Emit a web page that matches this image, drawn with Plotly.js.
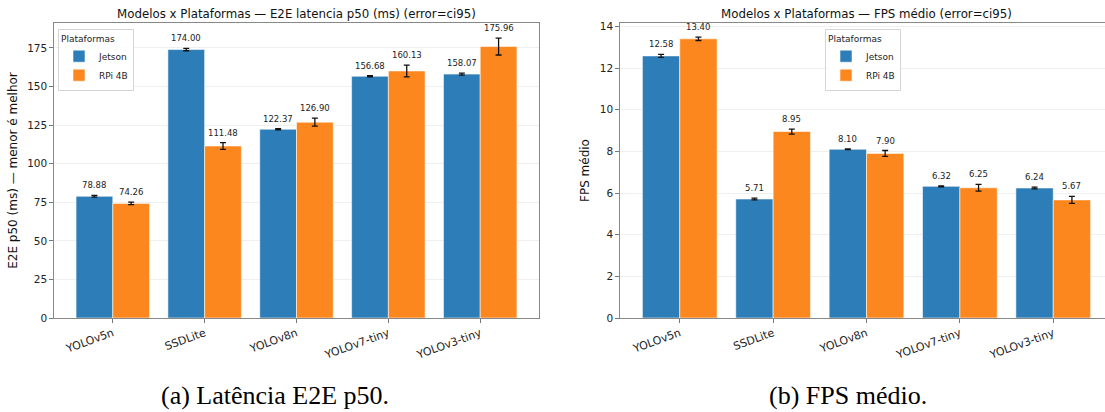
<!DOCTYPE html>
<html>
<head>
<meta charset="utf-8">
<script src="https://cdn.plot.ly/plotly-3.0.1.min.js"></script>
<style>
  html, body { margin: 0; padding: 0; overflow: hidden; background: #fff; }
  #chart { width: 1120px; height: 412px; }
</style>
</head>
<body>
<div id="chart"></div>
<script>
// ---- Data ----
const models = ['YOLOv5n', 'SSDLite', 'YOLOv8n', 'YOLOv7-tiny', 'YOLOv3-tiny'];
const platforms = ['Jetson', 'RPi 4B'];

const latJetson = [78.88, 174.00, 122.37, 156.68, 158.07];
const latJetsonErr = [0.6, 0.8, 0.4, 0.35, 0.6];
const latRpi = [74.26, 111.48, 126.90, 160.13, 175.96];
const latRpiErr = [0.8, 2.2, 2.6, 3.8, 5.5];

const fpsJetson = [12.58, 5.71, 8.10, 6.32, 6.24];
const fpsJetsonErr = [0.07, 0.04, 0.02, 0.02, 0.04];
const fpsRpi = [13.40, 8.95, 7.90, 6.25, 5.67];
const fpsRpiErr = [0.08, 0.12, 0.14, 0.16, 0.17];

const titleLat = 'Modelos x Plataformas — E2E latencia p50 (ms) (error=ci95)';
const titleFps = 'Modelos x Plataformas — FPS médio (error=ci95)';
const yTitleLat = 'E2E p50 (ms) — menor é melhor';
const yTitleFps = 'FPS médio';
const captionA = '(a) Latência E2E p50.';
const captionB = '(b) FPS médio.';

// ---- Styling ----
const W = 1120, H = 412;
const blue = '#2d7eb8';
const orange = '#fd871f';
const font = 'DejaVu Sans, sans-serif';
const serif = 'Liberation Serif, Times New Roman, serif';
const pos = models.map((_, i) => i);

function bar(name, y, err, color, xa, ya, legend) {
  return {
    type: 'bar', name: name, x: pos, y: y,
    xaxis: xa, yaxis: ya, legend: legend, showlegend: true,
    marker: { color: color, line: { color: 'rgba(255,255,255,0.55)', width: 1 } },
    error_y: { type: 'data', array: err, visible: true, color: '#111', thickness: 1.3, width: 3 },
    hoverinfo: 'skip'
  };
}

const data = [
  bar(platforms[0], latJetson, latJetsonErr, blue, 'x', 'y', 'legend'),
  bar(platforms[1], latRpi, latRpiErr, orange, 'x', 'y', 'legend'),
  bar(platforms[0], fpsJetson, fpsJetsonErr, blue, 'x2', 'y2', 'legend2'),
  bar(platforms[1], fpsRpi, fpsRpiErr, orange, 'x2', 'y2', 'legend2')
];

const annotations = [];
function addLabels(vals, errs, off, xr, yr) {
  vals.forEach((v, i) => {
    annotations.push({
      x: pos[i] + off, y: v + errs[i], xref: xr, yref: yr,
      text: v.toFixed(2), showarrow: false, xanchor: 'center', yanchor: 'bottom', yshift: 3,
      font: { family: font, size: 8.5, color: '#222' }
    });
  });
}
addLabels(latJetson, latJetsonErr, -0.2, 'x', 'y');
addLabels(latRpi, latRpiErr, 0.2, 'x', 'y');
addLabels(fpsJetson, fpsJetsonErr, -0.2, 'x2', 'y2');
addLabels(fpsRpi, fpsRpiErr, 0.2, 'x2', 'y2');

const dom1 = [54 / W, 539 / W];
const dom2 = [620 / W, 1113 / W];
const ydom = [(H - 318) / H, (H - 23) / H];

function paperText(text, x, y, f) {
  return { text: text, xref: 'paper', yref: 'paper', x: x, y: y,
    xanchor: 'center', yanchor: 'middle', showarrow: false, font: f };
}
annotations.push(
  paperText(titleLat, (dom1[0] + dom1[1]) / 2, 1 - 14 / H, { family: font, size: 11.8, color: '#111' }),
  paperText(titleFps, (dom2[0] + dom2[1]) / 2, 1 - 14 / H, { family: font, size: 11.8, color: '#111' }),
  paperText(captionA, 275 / W, 1 - 395 / H, { family: serif, size: 26, color: '#000' }),
  paperText(captionB, 848 / W, 1 - 395 / H, { family: serif, size: 26, color: '#000' })
);

function xaxis(domain, anchor) {
  return {
    domain: domain, anchor: anchor, range: [-0.64, 4.64],
    tickmode: 'array', tickvals: pos, ticktext: models, tickangle: -20,
    ticks: 'outside', ticklen: 3.5, tickcolor: '#777', tickwidth: 1,
    showline: true, linecolor: '#888', linewidth: 1.2, mirror: true,
    showgrid: false, zeroline: false,
    tickfont: { family: font, size: 11, color: '#222' }
  };
}
function yaxis(domain, anchor, range, dtick, title) {
  return {
    domain: domain, anchor: anchor, range: range, dtick: dtick,
    ticks: 'outside', ticklen: 3.5, tickcolor: '#777', tickwidth: 1,
    showline: true, linecolor: '#888', linewidth: 1.2, mirror: true,
    showgrid: true, gridcolor: '#efefef', gridwidth: 1, zeroline: false,
    tickfont: { family: font, size: 10.5, color: '#222' },
    title: { text: title, standoff: 7, font: { family: font, size: 12, color: '#111' } }
  };
}

const legendStyle = (x, xanchor) => ({
  x: x, y: 1 - 29 / H, xref: 'paper', yref: 'paper', xanchor: xanchor, yanchor: 'top',
  bgcolor: 'rgba(255,255,255,0.85)', bordercolor: '#d5d5d5', borderwidth: 1,
  font: { family: font, size: 9, color: '#222' },
  title: { text: 'Plataformas', side: 'top', font: { family: font, size: 9, color: '#222' } },
  tracegroupgap: 0, itemwidth: 30
});

const layout = {
  width: W, height: H,
  margin: { l: 0, r: 0, t: 0, b: 0 },
  paper_bgcolor: '#fff', plot_bgcolor: '#fff',
  barmode: 'group', bargap: 0.2, bargroupgap: 0,
  xaxis: xaxis(dom1, 'y'),
  yaxis: yaxis(ydom, 'x', [0, 191.2], 25, yTitleLat),
  xaxis2: xaxis(dom2, 'y2'),
  yaxis2: yaxis(ydom, 'x2', [0, 14.16], 2, yTitleFps),
  legend: legendStyle(58 / W, 'left'),
  legend2: legendStyle(863 / W, 'center'),
  annotations: annotations,
  showlegend: true
};

Plotly.newPlot('chart', data, layout, { staticPlot: true, displayModeBar: false });
</script>
</body>
</html>
